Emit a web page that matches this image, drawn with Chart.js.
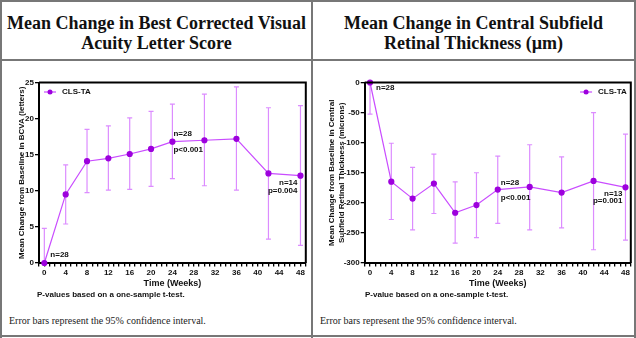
<!DOCTYPE html>
<html>
<head>
<meta charset="utf-8">
<script src="https://cdn.jsdelivr.net/npm/chart.js@4"></script>
<style>
  html, body { margin: 0; padding: 0; background: #fff; }
  #page { position: relative; width: 636px; height: 338px; overflow: hidden; background: #fff; }
  .frame { position: absolute; background: #777; }
  .head {
    position: absolute; top: 13px; text-align: center;
    font: bold 18px "Liberation Serif", "Times New Roman", serif; line-height: 20px; color: #111;
  }
  .pnote { position: absolute; top: 290px; font: bold 8px "Liberation Sans", Arial, sans-serif; color: #111; }
  .enote { position: absolute; top: 315px; font: 10px "Liberation Serif", "Times New Roman", serif; color: #222; }
  canvas { position: absolute; }
</style>
</head>
<body>
<div id="page">
  <div class="frame" style="left:0;top:0;width:636px;height:2px"></div>
  <div class="frame" style="left:0;top:0;width:2px;height:338px"></div>
  <div class="frame" style="left:634px;top:0;width:2px;height:338px"></div>
  <div class="frame" style="left:0;top:335px;width:636px;height:2px"></div>
  <div class="frame" style="left:0;top:59px;width:636px;height:2px"></div>
  <div class="frame" style="left:311px;top:0;width:2px;height:338px"></div>

  <div class="head" style="left:2px;width:309px">Mean Change in Best Corrected Visual<br>Acuity Letter Score</div>
  <div class="head" style="left:313px;width:321px">Mean Change in Central Subfield<br>Retinal Thickness (µm)</div>

  <canvas id="bcva" width="311" height="240" style="left:0;top:62px"></canvas>
  <canvas id="cst" width="324" height="240" style="left:312px;top:62px"></canvas>

  <div class="pnote" style="left:37px">P-values based on a one-sample t-test.</div>
  <div class="pnote" style="left:365px">P-value based on a one-sample t-test.</div>
  <div class="enote" style="left:9px">Error bars represent the 95% confidence interval.</div>
  <div class="enote" style="left:320px">Error bars represent the 95% confidence interval.</div>
</div>

<script>
// weeks of visits
const weeks = [0, 4, 8, 12, 16, 20, 24, 30, 36, 42, 48];

// BCVA letter score change
const bcvaMean  = [0, 9.5, 14.1, 14.5, 15.1, 15.8, 16.8, 17.0, 17.2, 12.4, 12.1];
const bcvaLower = [-4.8, 5.4, 9.75, 10.1, 10.2, 10.6, 11.7, 10.7, 10.1, 3.3, 2.45];
const bcvaUpper = [4.8, 13.6, 18.5, 19.0, 20.1, 21.0, 22.0, 23.4, 24.4, 21.5, 21.8];

// central subfield thickness change (microns)
const cstMean  = [0, -164.8, -193, -168, -216.5, -203.7, -178, -173.6, -183, -163.6, -174.3];
const cstLower = [-52.4, -227.7, -245, -217.7, -267, -257.7, -234, -245, -241.6, -278, -262];
const cstUpper = [52.4, -101, -141, -119, -165, -150, -122.5, -103.5, -123.5, -50, -85.8];

const seriesName = "CLS-TA";

// annotations: [week, value, text, dx, dy, align]
const bcvaNotes = [
  [0, 0, "n=28", 6, -8, "left"],
  [24, 16.8, "n=28", 1, -8, "left"],
  [24, 16.8, "p<0.001", 1, 8.5, "left"],
  [48, 12.1, "n=14", -3, 7.5, "right"],
  [48, 12.1, "p=0.004", -3, 15, "right"],
];
const cstNotes = [
  [0, 0, "n=28", 6, 5, "left"],
  [24, -178, "n=28", 3, -7, "left"],
  [24, -178, "p<0.001", 3, 8, "left"],
  [48, -174.3, "n=13", -3, 6.5, "right"],
  [48, -174.3, "p=0.001", -3, 13.5, "right"],
];

const LINE = "#c94cff";
const BAR = "#dc8cff";
const DOT = "#9d00dd";
const FONT = "'Liberation Sans', Arial, sans-serif";

function pts(ys) {
  return weeks.map((w, i) => ({ x: w, y: ys[i] }));
}

// error bars, box border, legend and text notes
const extras = {
  id: "extras",
  beforeDatasetsDraw(chart, args, opts) {
    const { ctx, chartArea: a, scales: { x, y } } = chart;
    ctx.save();
    ctx.beginPath();
    ctx.rect(a.left, a.top - 1, a.right - a.left, a.bottom - a.top + 1);
    ctx.clip();
    ctx.strokeStyle = BAR;
    ctx.lineWidth = 1.2;
    opts.lower.forEach((lo, i) => {
      const px = x.getPixelForValue(weeks[i]);
      const p1 = y.getPixelForValue(lo);
      const p2 = y.getPixelForValue(opts.upper[i]);
      ctx.beginPath();
      ctx.moveTo(px, p1); ctx.lineTo(px, p2);
      ctx.moveTo(px - 2.5, p1); ctx.lineTo(px + 2.5, p1);
      ctx.moveTo(px - 2.5, p2); ctx.lineTo(px + 2.5, p2);
      ctx.stroke();
    });
    ctx.restore();
  },
  afterDraw(chart, args, opts) {
    const { ctx, chartArea: a, scales: { x, y } } = chart;
    ctx.save();
    // top and right frame of the plot
    ctx.strokeStyle = "#000";
    ctx.lineWidth = 2;
    ctx.beginPath();
    ctx.moveTo(a.left, a.top); ctx.lineTo(a.right, a.top); ctx.lineTo(a.right, a.bottom);
    ctx.stroke();

    ctx.font = "bold 8px " + FONT;
    ctx.fillStyle = "#111";
    ctx.textBaseline = "middle";
    opts.notes.forEach(([w, v, t, dx, dy, al]) => {
      ctx.textAlign = al;
      ctx.fillText(t, x.getPixelForValue(w) + dx, y.getPixelForValue(v) + dy);
    });

    // legend
    const tw = ctx.measureText(seriesName).width;
    const tx = opts.legendRight ? a.right - 4 - tw : a.left + 23;
    const ly = a.top + 9.5;
    const mx = tx - 12;
    ctx.strokeStyle = LINE;
    ctx.lineWidth = 1.2;
    ctx.beginPath();
    ctx.moveTo(mx - 6, ly); ctx.lineTo(mx + 6, ly);
    ctx.stroke();
    ctx.fillStyle = DOT;
    ctx.beginPath();
    ctx.arc(mx, ly, 2.5, 0, Math.PI * 2);
    ctx.fill();
    ctx.fillStyle = "#111";
    ctx.textAlign = "left";
    ctx.fillText(seriesName, tx, ly);
    ctx.restore();
  }
};

function makeChart(id, mean, lower, upper, notes, yMin, yMax, yStep, yTitle, yWidth, titlePad, legendRight) {
  return new Chart(document.getElementById(id), {
    type: "line",
    data: {
      datasets: [{
        label: seriesName,
        data: pts(mean),
        borderColor: LINE,
        borderWidth: 1.2,
        pointBackgroundColor: DOT,
        pointBorderColor: DOT,
        pointRadius: 2.5,
        tension: 0,
        clip: false,
      }],
    },
    options: {
      responsive: false,
      animation: false,
      layout: { padding: { top: 20.5, right: 3, left: 0, bottom: 0 } },
      plugins: {
        legend: { display: false },
        tooltip: { enabled: false },
        extras: { lower: lower, upper: upper, notes: notes, legendRight: legendRight },
      },
      scales: {
        x: {
          type: "linear",
          min: -1,
          max: 49,
          afterFit: (s) => { s.height = 39; },
          ticks: {
            stepSize: 1,
            autoSkip: false,
            maxRotation: 0,
            padding: 1,
            color: "#111",
            font: { family: FONT, size: 8, weight: "bold" },
            callback: (v) => (v >= 0 && v <= 48 && v % 4 === 0 ? v : ""),
          },
          grid: { drawOnChartArea: false, tickLength: 3.5, tickColor: "#000", lineWidth: 1.3 },
          border: { color: "#000", width: 2 },
          title: {
            display: true,
            text: "Time (Weeks)",
            color: "#111",
            font: { family: FONT, size: 9, weight: "bold" },
            padding: { top: 0, bottom: 13 },
          },
        },
        y: {
          min: yMin,
          max: yMax,
          afterFit: (s) => { s.width = yWidth; },
          ticks: {
            stepSize: yStep,
            padding: 1,
            color: "#111",
            font: { family: FONT, size: 8, weight: "bold" },
          },
          grid: { drawOnChartArea: false, tickLength: 4, tickColor: "#000", lineWidth: 1.3 },
          border: { color: "#000", width: 2 },
          title: {
            display: true,
            text: yTitle,
            color: "#111",
            font: { family: FONT, size: 8, weight: "bold", lineHeight: 1.25 },
            padding: { top: titlePad, bottom: 0 },
          },
        },
      },
    },
    plugins: [extras],
  });
}

makeChart("bcva", bcvaMean, bcvaLower, bcvaUpper, bcvaNotes, 0, 25, 5,
  "Mean Change from Baseline in BCVA (letters)", 39, 17, false);
makeChart("cst", cstMean, cstLower, cstUpper, cstNotes, -300, 0, 50,
  ["Mean Change from Baseline in Central", "Subfield Retinal Thickness (microns)"], 52.7, 15, true);
</script>
</body>
</html>
